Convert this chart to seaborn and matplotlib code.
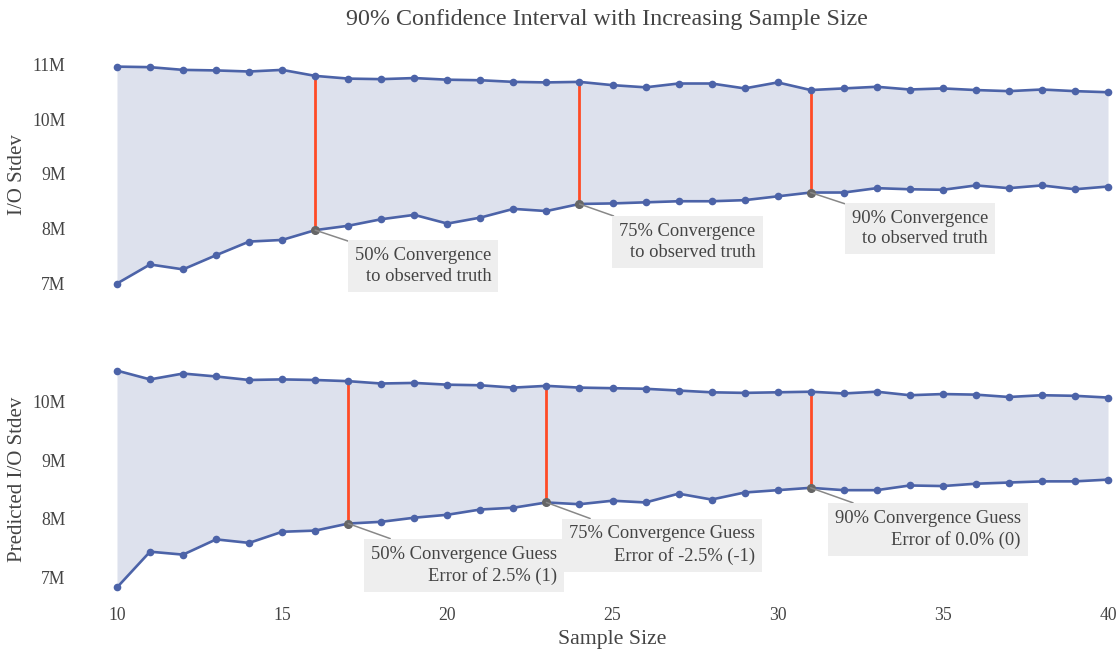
import numpy as np
import pandas as pd
import matplotlib
matplotlib.use("Agg")
import matplotlib.pyplot as plt
import seaborn as sns

sample_size = list(range(10, 41))

obs_upper = [10.97, 10.96, 10.91, 10.90, 10.88, 10.91, 10.80, 10.75, 10.74, 10.76,
             10.73, 10.72, 10.69, 10.68, 10.69, 10.63, 10.59, 10.66, 10.66, 10.57,
             10.68, 10.54, 10.57, 10.60, 10.55, 10.57, 10.54, 10.52, 10.55, 10.52, 10.50]
obs_lower = [6.99, 7.34, 7.25, 7.51, 7.76, 7.79, 7.97, 8.05, 8.17, 8.25,
             8.09, 8.20, 8.36, 8.32, 8.45, 8.46, 8.48, 8.50, 8.50, 8.52,
             8.59, 8.66, 8.66, 8.74, 8.72, 8.71, 8.79, 8.74, 8.79, 8.72, 8.77]

pred_upper = [10.53, 10.38, 10.48, 10.43, 10.37, 10.38, 10.37, 10.35, 10.31, 10.32,
              10.29, 10.28, 10.24, 10.27, 10.24, 10.23, 10.22, 10.19, 10.16, 10.15,
              10.16, 10.17, 10.14, 10.17, 10.11, 10.13, 10.12, 10.08, 10.11, 10.10, 10.07]
pred_lower = [6.83, 7.44, 7.39, 7.65, 7.59, 7.78, 7.80, 7.92, 7.95, 8.02,
              8.07, 8.16, 8.19, 8.28, 8.25, 8.31, 8.28, 8.43, 8.33, 8.45,
              8.49, 8.53, 8.49, 8.49, 8.57, 8.56, 8.60, 8.62, 8.64, 8.64, 8.67]

obs_marks = [16, 24, 31]
obs_texts = ["50% Convergence\nto observed truth",
             "75% Convergence\nto observed truth",
             "90% Convergence\nto observed truth"]
pred_marks = [17, 23, 31]
pred_texts = ["50% Convergence Guess\nError of 2.5% (1)",
              "75% Convergence Guess\nError of -2.5% (-1)",
              "90% Convergence Guess\nError of 0.0% (0)"]

y_ticks = [7, 8, 9, 10, 11]
y_ticklabels = ["7M", "8M", "9M", "10M", "11M"]
x_ticks = [10, 15, 20, 25, 30, 35, 40]

sns.set_theme(style="white")
plt.rcParams["font.family"] = ["Liberation Serif", "DejaVu Serif"]

BLUE = "#4c63a8"
FILL = "#dde1ed"
RED = "#ff4b26"
TXT = "#444444"

W, H = 1117, 651
fig = plt.figure(figsize=(W / 100, H / 100), dpi=100)


def ax_rect(top_px, bot_px, left_px=117, right_px=1108):
    return [left_px / W, 1 - bot_px / H, (right_px - left_px) / W, (bot_px - top_px) / H]


ax1 = fig.add_axes(ax_rect(58, 292))
ax2 = fig.add_axes(ax_rect(362, 596))

panels = [
    (ax1, obs_upper, obs_lower, obs_marks, obs_texts, (6.835, 11.128), "I/O Stdev",
     [(33, 10), (33, 12), (34, 10)]),
    (ax2, pred_upper, pred_lower, pred_marks, pred_texts, (6.684, 10.677), "Predicted I/O Stdev",
     [(16, 15), (16, 16), (17, 15)]),
]

for ax, up, lo, marks, texts, ylim, ylabel, offs in panels:
    df = pd.DataFrame({"n": sample_size, "upper": up, "lower": lo})
    ax.fill_between(df["n"], df["lower"], df["upper"], color=FILL, lw=0, zorder=1)
    for col in ["upper", "lower"]:
        sns.lineplot(data=df, x="n", y=col, ax=ax, color=BLUE, lw=1.9, marker="o",
                     markersize=5.5, markeredgewidth=0, zorder=3, clip_on=False)
    idx = [sample_size.index(m) for m in marks]
    ax.vlines(marks, [lo[i] for i in idx], [up[i] for i in idx], color=RED, lw=2, zorder=2)
    for m, i, t, (dx, dy) in zip(marks, idx, texts, offs):
        pad = 7
        ax.annotate(t, xy=(m, lo[i]), xycoords="data",
                    xytext=(dx + pad, -(dy + pad)), textcoords="offset pixels",
                    ha="left", va="top", multialignment="right", fontsize=13.3,
                    color=TXT, linespacing=1.3,
                    bbox=dict(boxstyle="square,pad=0.38", fc="#eeeeee", ec="none"),
                    arrowprops=dict(arrowstyle="-", color="#888888", lw=1.1,
                                    shrinkA=0, shrinkB=0),
                    zorder=5)
        ax.plot([m], [lo[i]], "o", color="#666666", markersize=5.5, zorder=4)
    ax.set_xticks(x_ticks)
    ax.set_yticks(y_ticks)
    ax.set_yticklabels(y_ticklabels)
    ax.set_xlim(10, 40)
    ax.set_ylim(*ylim)
    ax.tick_params(axis="y", length=0, pad=37, labelsize=12.7, labelcolor=TXT)
    ax.tick_params(axis="x", length=0, pad=8, labelsize=12.7, labelcolor=TXT)
    for s in ax.spines.values():
        s.set_visible(False)
    ax.grid(False)
    ax.set_xlabel("")
    ax.set_ylabel(ylabel, fontsize=15, color=TXT)
    ax.yaxis.set_label_coords(-0.091, 0.5)

ax1.set_xticklabels([])
ax2.set_xlabel("Sample Size", fontsize=15.7, color=TXT, labelpad=4)

fig.text(607 / W, 1 - 19 / H, "90% Confidence Interval with Increasing Sample Size",
         ha="center", va="center", fontsize=17.3, color=TXT)

fig.savefig("out.png", dpi=100)
